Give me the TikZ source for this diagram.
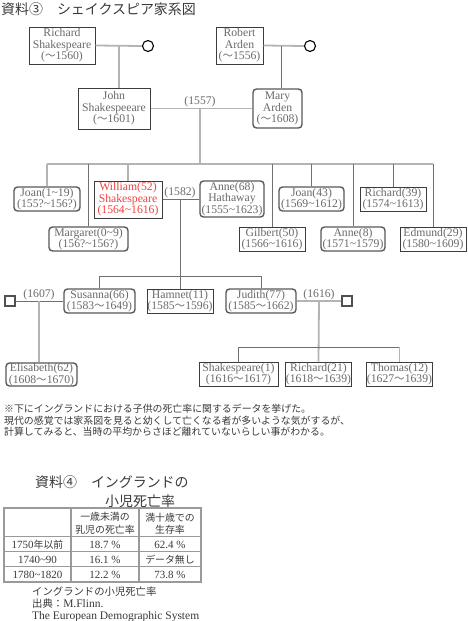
\documentclass[tikz,border=0pt]{standalone}
\usepackage{fontspec}
\setmainfont{Liberation Serif}
\newfontfamily\cjk{Noto Sans CJK JP}[Scale=0.9]
\usepackage{tikz}
\usetikzlibrary{positioning}
\definecolor{lightLine}{HTML}{B4B4B4}
\definecolor{darkLine}{HTML}{707070}
\definecolor{boxText}{HTML}{6A6A6A}
\definecolor{boxEdge}{HTML}{3C3C3C}
\definecolor{redText}{HTML}{F04040}
\definecolor{inkGray}{HTML}{3A3A3A}
\definecolor{tableLine}{HTML}{9A9A9A}

\begin{document}
\begin{tikzpicture}[x=1pt, y=-1pt,
  every node/.style={font=\fontsize{11.7}{11.6}\selectfont, text=boxText, inner sep=0pt, align=center},
  sqbox/.style={draw=boxEdge, line width=1pt, fill=white},
  rdbox/.style={draw=boxEdge!85, line width=1.4pt, rounded corners=3.5pt, fill=white},
  mateM/.style={draw=boxEdge!90, line width=1.4pt, minimum size=10pt, fill=white},
  mateF/.style={circle, draw=black, line width=1.1pt, minimum size=11pt, fill=white},
  thk/.style={draw=lightLine, line width=1.8pt},
  thn/.style={draw=darkLine, line width=0.9pt},
  yr/.style={above=1pt},
  cell/.style={font=\fontsize{11}{12.5}\selectfont, text=inkGray}]
\fill[white] (0,0) rectangle (467,621);
\useasboundingbox (0,0) rectangle (467,621);

\node[anchor=west, font=\fontsize{15.5}{17}\selectfont\cjk, text=inkGray] (titleA) at (1,9) {資料③　シェイクスピア家系図};

\node[sqbox, minimum width=66pt, minimum height=37pt] (rich) at (62,45.5) {Richard\\Shakespeare\\({\cjk 〜}1560)};
\node[mateF] (cirA) at (148,46) {};
\node[sqbox, minimum width=72pt, minimum height=41pt] (john) at (114,108.5) {John\\Shakespeeare\\({\cjk 〜}1601)};
\node[sqbox, minimum width=47pt, minimum height=37pt] (robert) at (239.5,45.5) {Robert\\Arden\\({\cjk 〜}1556)};
\node[mateF] (cirB) at (310,46) {};
\node[rdbox, minimum width=49pt, minimum height=39pt] (mary) at (277.5,108.5) {Mary\\Arden\\({\cjk 〜}1608)};

\node[rdbox, minimum width=66pt, minimum height=24pt] (joanA) at (47,199) {Joan(1\textasciitilde19)\\(155?\textasciitilde156?)};
\node[sqbox, minimum width=68pt, minimum height=37pt, text=redText] (will) at (128,199.5) {William(52)\\Shakespeare\\(1564\textasciitilde1616)};
\node[rdbox, minimum width=64pt, minimum height=36pt] (anneH) at (232,199) {Anne(68)\\Hathaway\\(1555\textasciitilde1623)};
\node[rdbox, minimum width=65pt, minimum height=24pt] (joanB) at (311.5,199) {Joan(43)\\(1569\textasciitilde1612)};
\node[sqbox, minimum width=66pt, minimum height=24pt] (richB) at (393,199) {Richard(39)\\(1574\textasciitilde1613)};
\node[rdbox, minimum width=79pt, minimum height=24pt] (marg) at (88.5,239) {Margaret(0\textasciitilde9)\\(156?\textasciitilde156?)};
\node[sqbox, minimum width=66pt, minimum height=24pt] (gilb) at (272,239) {Gilbert(50)\\(1566\textasciitilde1616)};
\node[rdbox, minimum width=64pt, minimum height=24pt] (anneB) at (353,239) {Anne(8)\\(1571\textasciitilde1579)};
\node[sqbox, minimum width=66pt, minimum height=24pt] (edm) at (433,239) {Edmund(29)\\(1580\textasciitilde1609)};

\node[mateM] (sqL) at (10,301) {};
\node[rdbox, minimum width=71pt, minimum height=24pt] (sus) at (99.5,301) {Susanna(66)\\(1583{\cjk 〜}1649)};
\node[sqbox, minimum width=66pt, minimum height=24pt] (ham) at (180,301) {Hamnet(11)\\(1585{\cjk 〜}1596)};
\node[rdbox, minimum width=70pt, minimum height=24pt] (jud) at (261,301) {Judith(77)\\(1585{\cjk 〜}1662)};
\node[mateM] (sqR) at (347,301) {};
\node[rdbox, minimum width=71pt, minimum height=23pt] (elis) at (41.5,374.5) {Elisabeth(62)\\(1608{\cjk 〜}1670)};
\node[sqbox, minimum width=79pt, minimum height=24pt] (shk) at (238.5,374) {Shakespeare(1)\\(1616{\cjk 〜}1617)};
\node[sqbox, minimum width=65pt, minimum height=24pt] (richC) at (318.5,374) {Richard(21)\\(1618{\cjk 〜}1639)};
\node[sqbox, minimum width=65pt, minimum height=24pt] (thom) at (399.5,374) {Thomas(12)\\(1627{\cjk 〜}1639)};

\coordinate (jRich) at (119,46);
\coordinate (jRob) at (281,46);
\coordinate (m1) at (200,108.5);
\coordinate (kids) at (200,164);
\coordinate (m2) at (180,199);
\coordinate (g2) at (180,276);
\coordinate (m3) at (39,301);
\coordinate (m4) at (319,301);
\coordinate (g3) at (319,347);

\draw[thk] (rich.east) -- (cirA.west);
\draw[thk] (jRich) -- (jRich |- john.north);
\draw[thk] (robert.east) -- (cirB.west);
\draw[thn] (jRob) -- (jRob |- mary.north);
\draw[thk] (john.east) -- (mary.west);
\node[yr] (yA) at (m1) {(1557)};
\draw[thk] (m1) -- (kids);
\draw[thk] (joanA.north |- kids) -- (edm.north |- kids);
\draw[thk] (joanA.north |- kids) -- (joanA.north);
\draw[thk] (will.north |- kids) -- (will.north);
\foreach \n in {marg,gilb,joanB,anneB,richB,edm}
  \draw[thn] (\n.north |- kids) -- (\n.north);

\draw[thn] (will.east |- m2) -- (anneH.west |- m2);
\node[yr] (yB) at (m2) {(1582)};
\draw[thn] (m2) -- (ham.north);
\draw[thn] (sus.north |- g2) -- (jud.north |- g2);
\draw[thn] (sus.north |- g2) -- (sus.north);
\draw[thn] (jud.north |- g2) -- (jud.north);

\draw[thn] (sqL.east) -- (sus.west);
\node[yr] (yC) at (m3) {(1607)};
\draw[thk] (m3) -- (m3 |- elis.north);
\draw[thk] (jud.east) -- (sqR.west);
\node[yr] (yD) at (m4) {(1616)};
\draw[thk] (m4) -- (richC.north);
\draw[thn] (shk.north |- g3) -- (thom.north |- g3);
\draw[thn] (shk.north |- g3) -- (shk.north);
\draw[thk] (thom.north |- g3) -- (thom.north);

\node[anchor=west, align=left, font=\fontsize{11}{11.5}\selectfont\cjk, text=inkGray] (note) at (4,420.5) {※下にイングランドにおける子供の死亡率に関するデータを挙げた。\\現代の感覚では家系図を見ると幼くして亡くなる者が多いような気がするが、\\計算してみると、当時の平均からさほど離れていないらしい事がわかる。};

\node[anchor=west, font=\fontsize{15.5}{17}\selectfont\cjk, text=inkGray] (titleB) at (35,482) {資料④　イングランドの};
\node[anchor=west, font=\fontsize{15.5}{17}\selectfont\cjk, text=inkGray] (titleC) at (105,501) {小児死亡率};

\draw[tableLine, line width=1.2pt] (4,508) rectangle (201,582);
\foreach \y in {536.7,551.7,566.7}
  \draw[tableLine, line width=1.2pt] (4,\y) -- (201,\y);
\foreach \x in {71,139}
  \draw[tableLine, line width=1.2pt] (\x,508) -- (\x,582);

\node[cell] (hB) at (105,523.5) {{\cjk 一歳未満の}\\{\cjk 乳児の死亡率}};
\node[cell] (hC) at (170,523.5) {{\cjk 満十歳での}\\{\cjk 生存率}};
\node[cell] (rA) at (37.5,544.5) {1750{\cjk 年以前}};
\node[cell] (rB) at (37.5,559.5) {1740\textasciitilde90};
\node[cell] (rC) at (37.5,574.5) {1780\textasciitilde1820};
\node[cell] (aA) at (105,544.5) {18.7 \%};
\node[cell] (aB) at (105,559.5) {16.1 \%};
\node[cell] (aC) at (105,574.5) {12.2 \%};
\node[cell] (bA) at (170,544.5) {62.4 \%};
\node[cell] (bB) at (170,559.5) {{\cjk データ無し}};
\node[cell] (bC) at (170,574.5) {73.8 \%};

\node[anchor=west, align=left, font=\fontsize{11.5}{12}\selectfont, text=inkGray] (src) at (32,604) {{\cjk イングランドの小児死亡率}\\{\cjk 出典：}M.Flinn.\\The European Demographic System};
\end{tikzpicture}
\end{document}
